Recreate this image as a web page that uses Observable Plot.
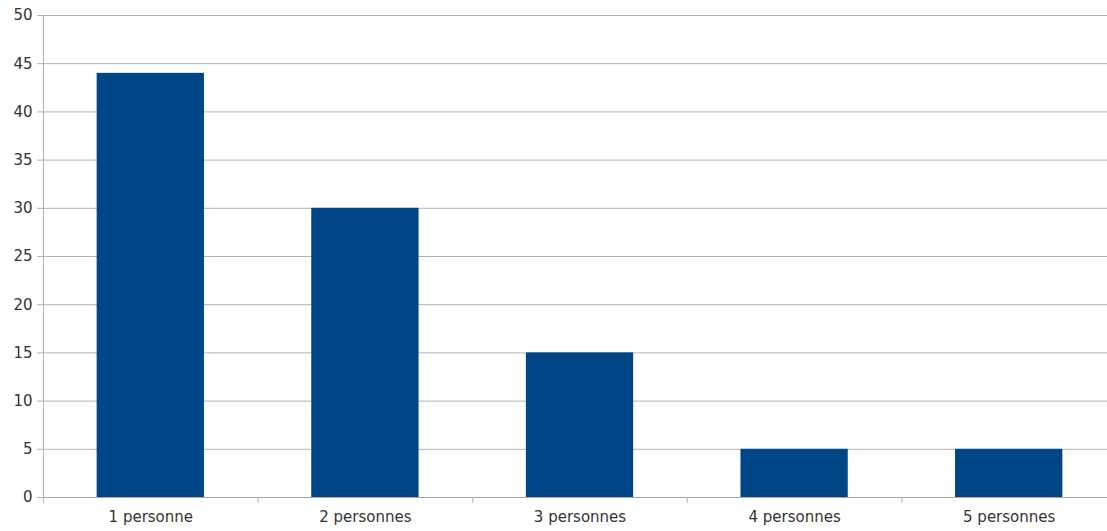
<!DOCTYPE html>
<html><head><meta charset="utf-8">
<script src="https://cdn.jsdelivr.net/npm/d3@7"></script>
<script src="https://cdn.jsdelivr.net/npm/@observablehq/plot@0.6"></script>
<style>body{margin:0;background:#fff;overflow:hidden}</style>
</head><body><div id="chart"></div>
<script>
const categories = ["1 personne", "2 personnes", "3 personnes", "4 personnes", "5 personnes"];
const values = [44, 30, 15, 5, 5];
const yTicks = [0, 5, 10, 15, 20, 25, 30, 35, 40, 45, 50];

const data = categories.map((c, i) => ({c, i, v: values[i]}));
const boundaries = d3.range(categories.length);
const centers = categories.map((c, i) => i + 0.5);

const chart = Plot.plot({
  width: 1107, height: 531,
  marginLeft: 43, marginRight: -9, marginTop: 15, marginBottom: 34,
  style: {fontFamily: "DejaVu Sans", fontSize: "15px", color: "#333", background: "#fff"},
  x: {domain: [0, categories.length], axis: null},
  y: {domain: [0, 50], axis: null},
  marks: [
    Plot.gridY(yTicks, {stroke: "#b3b3b3", strokeOpacity: 1}),
    Plot.axisY(yTicks, {tickSize: 6, tickPadding: 5, stroke: "#b3b3b3", fill: "#333", label: null}),
    Plot.rectY(data, {x1: d => d.i + 0.25, x2: d => d.i + 0.75, y: "v", fill: "#004586"}),
    Plot.ruleY([0], {stroke: "#a6a6a6"}),
    Plot.ruleX([0], {stroke: "#b3b3b3"}),
    Plot.axisX(boundaries, {tickSize: 6, stroke: "#b3b3b3", tickFormat: () => "", label: null}),
    Plot.axisX(centers, {tickSize: 0, tickPadding: 14, fill: "#333", tickFormat: d => categories[Math.floor(d)], label: null})
  ]
});
document.getElementById("chart").append(chart);
</script>
</body></html>
